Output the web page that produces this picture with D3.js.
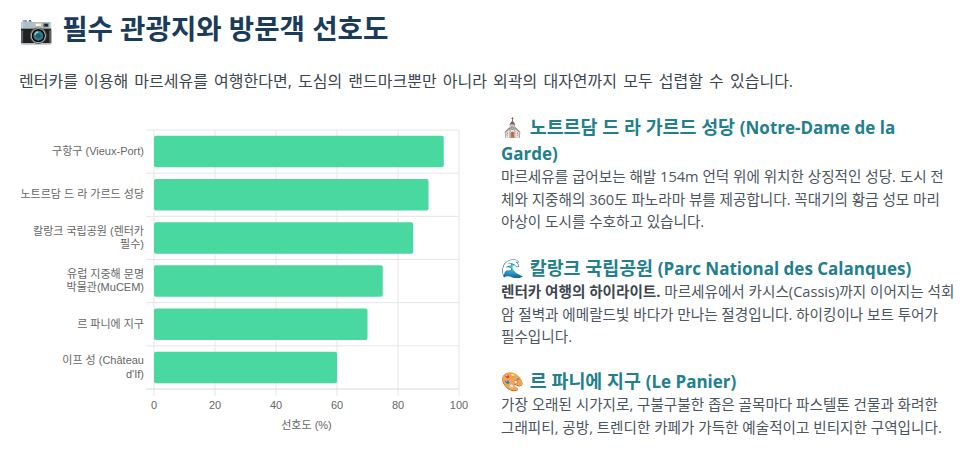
<!DOCTYPE html>
<html lang="ko">
<head>
<meta charset="utf-8">
<script src="https://cdn.jsdelivr.net/npm/d3@7"></script>
<style>
  html, body { margin: 0; background: #fff; overflow: hidden; }
  body { width: 975px; height: 476px; position: relative; font-family: "Open Sans", "Noto Sans CJK KR", sans-serif; }
  h2 { position: absolute; left: 19px; top: 9px; margin: 0; font-size: 27.6px; line-height: 38px; font-weight: 700; color: #1a3c5a; white-space: nowrap; }
  h2 span { margin-right: 2px; }
  .intro { position: absolute; left: 19px; top: 69px; margin: 0; font-size: 16px; line-height: 24px; word-spacing: 2px; color: #3c4650; white-space: nowrap; }
  #chart { position: absolute; left: 0; top: 0; }
  .spot { position: absolute; left: 501px; width: 450px; }
  .spot h3 { margin: 0; font-size: 18.4px; line-height: 26px; font-weight: 700; color: #22808c; }
  .spot h3 i { font-style: normal; font-size: 17px; line-height: 1; }
  .spot h3 span { margin-right: 1px; line-height: 1; }
  .spot p { margin: -1px 0 0; font-size: 14.6px; line-height: 22.7px; color: #4a5560; white-space: nowrap; }
  .spot b { color: #3c4650; }
</style>
</head>
<body>
<h2><span>📷</span> 필수 관광지와 방문객 선호도</h2>
<p class="intro">렌터카를 이용해 마르세유를 여행한다면, 도심의 랜드마크뿐만 아니라 외곽의 대자연까지 모두 섭렵할 수 있습니다.</p>
<svg id="chart" width="490" height="476"></svg>
<div class="spot" style="top:114px">
  <h3><span>⛪</span> 노트르담 드 라 가르드 성당 <i>(Notre-Dame de la</i><br><i>Garde)</i></h3>
  <p>마르세유를 굽어보는 해발 154m 언덕 위에 위치한 상징적인 성당. 도시 전<br>체와 지중해의 360도 파노라마 뷰를 제공합니다. 꼭대기의 황금 성모 마리<br>아상이 도시를 수호하고 있습니다.</p>
</div>
<div class="spot" style="top:255px">
  <h3><span>🌊</span> 칼랑크 국립공원 <i>(Parc National des Calanques)</i></h3>
  <p><b>렌터카 여행의 하이라이트.</b> 마르세유에서 카시스(Cassis)까지 이어지는 석회<br>암 절벽과 에메랄드빛 바다가 만나는 절경입니다. 하이킹이나 보트 투어가<br>필수입니다.</p>
</div>
<div class="spot" style="top:368px">
  <h3><span>🎨</span> 르 파니에 지구 <i>(Le Panier)</i></h3>
  <p>가장 오래된 시가지로, 구불구불한 좁은 골목마다 파스텔톤 건물과 화려한<br>그래피티, 공방, 트렌디한 카페가 가득한 예술적이고 빈티지한 구역입니다.</p>
</div>
<script>
// chart data
var categories = [
    ["구항구 (Vieux-Port)"],
    ["노트르담 드 라 가르드 성당"],
    ["칼랑크 국립공원 (렌터카", "필수)"],
    ["유럽 지중해 문명", "박물관(MuCEM)"],
    ["르 파니에 지구"],
    ["이프 성 (Château", "d'If)"]
];
var preference = [95, 90, 85, 75, 70, 60];
var xTicks = [0, 20, 40, 60, 80, 100];

var svg = d3.select("#chart");
var left = 154, right = 459, top_ = 130, bottom = 389;

var x = d3.scaleLinear().domain([0, 100]).range([left, right]);
var y = d3.scaleBand().domain(d3.range(categories.length)).range([top_, bottom]).paddingInner(0.27).paddingOuter(0.135);
var step = y.step();
var font = '"Liberation Sans", "Noto Sans CJK KR", sans-serif';

//Vertical grid lines + x tick marks
svg.selectAll("line.vgrid")
    .data(xTicks)
    .enter()
    .append("line")
    .attr("x1", d => x(d)).attr("x2", d => x(d))
    .attr("y1", top_).attr("y2", bottom + 7)
    .style("stroke", "#e6e6e6")
    .style("stroke-width", 1);

//Horizontal grid lines at category edges
svg.selectAll("line.hgrid")
    .data(d3.range(categories.length + 1))
    .enter()
    .append("line")
    .attr("x1", left - 8).attr("x2", right)
    .attr("y1", d => top_ + d * step).attr("y2", d => top_ + d * step)
    .style("stroke", d => d == categories.length ? "#d9d9d9" : "#e6e6e6")
    .style("stroke-width", 1);

//Bars
svg.selectAll("rect.bar")
    .data(preference)
    .enter()
    .append("rect")
    .attr("class", "bar")
    .attr("x", x(0))
    .attr("y", (d, i) => y(i))
    .attr("width", d => x(d) - x(0))
    .attr("height", y.bandwidth())
    .attr("rx", 2)
    .style("fill", "#48d8a0");

//Category labels
var labels = svg.selectAll("text.cat")
    .data(categories)
    .enter()
    .append("text")
    .attr("class", "cat")
    .attr("text-anchor", "end")
    .style("font-family", font)
    .style("font-size", "11px")
    .style("fill", "#666");

labels.selectAll("tspan")
    .data((d, i) => d.map((t, k) => ({ t: t, k: k, n: d.length, i: i })))
    .enter()
    .append("tspan")
    .attr("x", 144)
    .attr("y", d => y(d.i) + y.bandwidth() / 2 + 3.5 + (d.k - (d.n - 1) / 2) * 13.5)
    .text(d => d.t);

//X axis labels
svg.selectAll("text.xlab")
    .data(xTicks)
    .enter()
    .append("text")
    .attr("class", "xlab")
    .attr("x", d => x(d))
    .attr("y", 409)
    .attr("text-anchor", "middle")
    .style("font-family", font)
    .style("font-size", "11px")
    .style("fill", "#666")
    .text(d => d);

svg.append("text")
    .attr("x", (left + right) / 2)
    .attr("y", 429)
    .attr("text-anchor", "middle")
    .style("font-family", font)
    .style("font-size", "11px")
    .style("fill", "#666")
    .text("선호도 (%)");
</script>
</body>
</html>
